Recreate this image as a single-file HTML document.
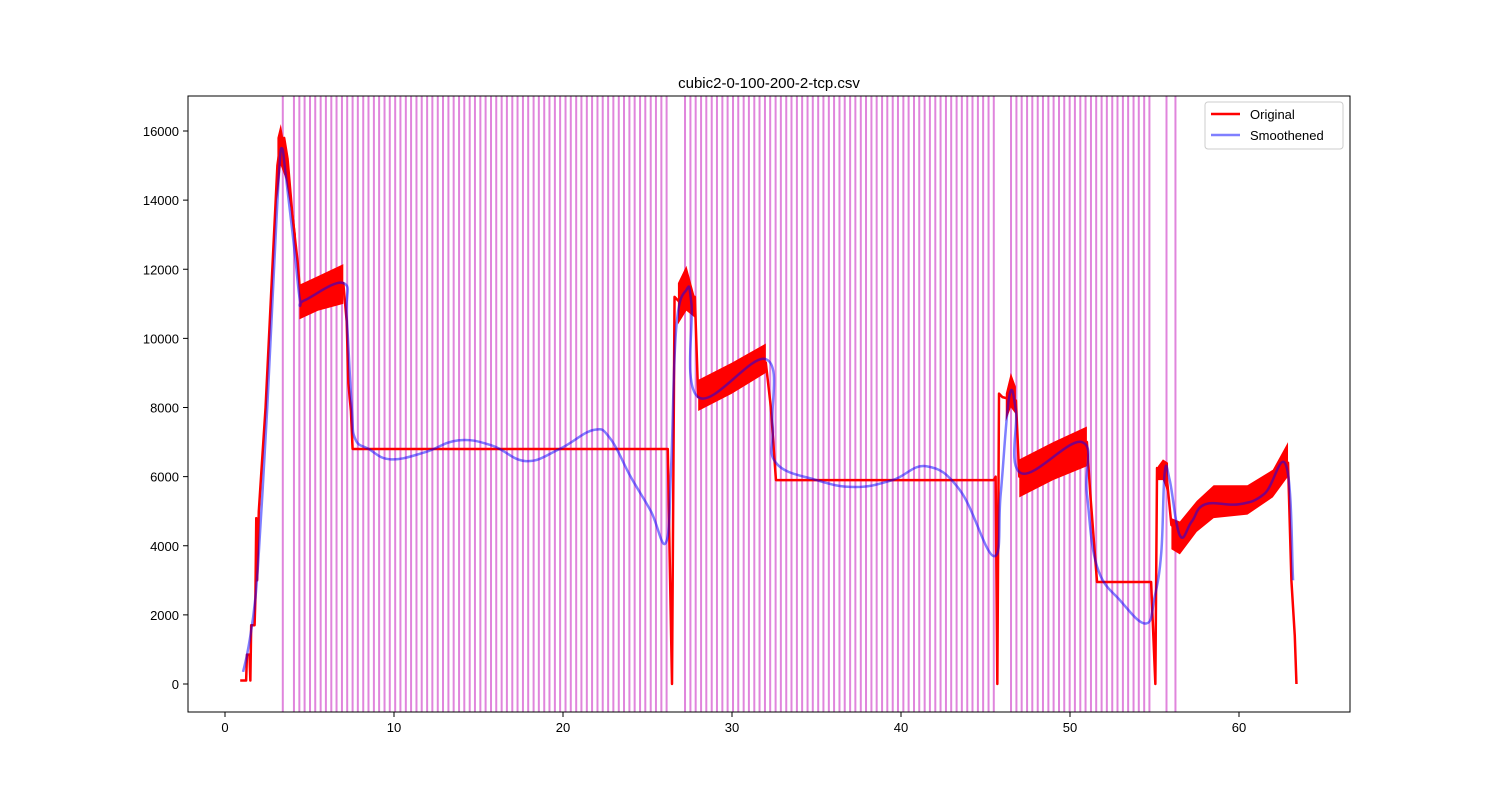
<!DOCTYPE html>
<html><head><meta charset="utf-8"><style>
body{margin:0;background:#fff;}
svg{display:block;font-family:"Liberation Sans","DejaVu Sans",sans-serif;}
</style></head><body>
<svg id="chart" width="1500" height="800">
<rect x="0" y="0" width="1500" height="800" fill="#fff"/>
<text x="769" y="88" text-anchor="middle" font-size="15">cubic2-0-100-200-2-tcp.csv</text>
<g id="plot"></g>
</svg>
<script>
const xTicks=[0,10,20,30,40,50,60];
const yTicks=[0,2000,4000,6000,8000,10000,12000,14000,16000];
const eventTimes=[3.42,
4.08,4.40,4.71,5.03,5.34,5.66,5.97,6.29,6.60,6.92,7.23,7.55,7.86,8.18,8.49,8.81,9.12,9.44,9.75,10.07,10.38,10.70,11.01,11.33,11.64,11.96,12.27,12.59,12.90,13.22,13.53,13.85,14.16,14.48,14.79,15.11,15.42,15.74,16.05,16.37,16.68,17.00,17.31,17.63,17.94,18.26,18.57,18.89,19.20,19.52,19.83,20.15,20.46,20.78,21.09,21.41,21.72,22.04,22.35,22.67,22.98,23.30,23.61,23.93,24.24,24.56,24.87,25.19,25.50,25.82,26.13,
27.22,27.54,27.85,28.17,28.48,28.80,29.11,29.43,29.74,30.06,30.37,30.69,31.00,31.32,31.63,31.95,32.26,32.58,32.89,33.21,33.52,33.84,34.15,34.47,34.78,35.10,35.41,35.73,36.04,36.36,36.67,36.99,37.30,37.62,37.93,38.25,38.56,38.88,39.19,39.51,39.82,40.14,40.45,40.77,41.08,41.40,41.71,42.03,42.34,42.66,42.97,43.29,43.60,43.92,44.23,44.55,44.86,45.18,45.49,
46.51,46.83,47.14,47.46,47.77,48.09,48.40,48.72,49.03,49.35,49.66,49.98,50.29,50.61,50.92,51.24,51.55,51.87,52.18,52.50,52.81,53.13,53.44,53.76,54.07,54.39,54.70,
55.71,56.24];
const origX=[0.9,1.25,1.3,1.45,1.5,1.55,1.75,1.8,1.85,1.9,2.0,2.4,2.8,3.1,3.3,3.5,3.7,4.0,4.3,4.5,7.0,7.2,7.3,7.45,7.55,26.2,26.3,26.45,26.6,27.0,27.8,28.0,32.0,32.3,32.6,45.5,45.6,45.7,45.8,46.0,46.8,47.0,51.0,51.2,51.6,54.6,54.8,55.05,55.15,55.7,56.0,56.5,62.9,63.1,63.3,63.4];
const origY=[100,100,850,850,100,1700,1700,2500,4800,3000,5000,8000,12000,15000,15700,15800,15200,13500,12200,11000,11600,10500,8700,7900,6800,6800,4000,0,11200,11000,11200,8300,9300,8000,5900,5900,6000,0,8400,8300,8200,6000,7000,5500,2950,2950,2950,0,6250,6100,4600,4400,6400,3000,1400,0];
const bands=[
 {x:[3.1,3.3,3.6,3.9,4.2],lo:[14000,15000,14600,13700,12600],hi:[15800,16200,15400,14200,13000]},
 {x:[4.4,5.5,7.0],lo:[10550,10800,11000],hi:[11550,11800,12150]},
 {x:[26.8,27.3,27.8],lo:[10400,10800,10600],hi:[11600,12100,11200]},
 {x:[28.0,30.0,32.0],lo:[7900,8400,9000],hi:[8800,9300,9850]},
 {x:[46.2,46.5,46.8],lo:[7600,8000,7800],hi:[8400,9000,8600]},
 {x:[47.0,49.0,51.0],lo:[5400,5900,6300],hi:[6500,7000,7450]},
 {x:[55.2,55.5,55.8],lo:[5900,5900,5500],hi:[6300,6500,6400]},
 {x:[56.0,56.5,57.5,58.5,60.5,62.0,62.9],lo:[3900,3750,4400,4800,4900,5400,6000],hi:[4800,4700,5300,5750,5750,6200,7000]}
];
const smoothX=[1.07,1.4,1.8,2.1,2.5,2.9,3.2,3.37,3.6,4.1,4.44,4.7,7.0,7.2,7.5,7.7,8.5,9.8,11.8,13.8,15.8,17.8,19.8,21.8,22.8,24.0,25.2,26.1,26.4,26.7,27.3,27.6,28.0,32.0,32.4,32.6,35,37.3,39.5,41.5,43.5,45.5,45.9,46.4,46.8,47.1,50.7,51.0,51.6,53.0,54.5,55.0,55.4,55.6,55.9,56.5,57.2,58.0,60.0,61.5,62.8,63.2];
const smoothY=[350,1100,2500,4600,8000,12000,14800,15500,14700,12600,11100,11100,11600,10600,8000,7100,6800,6500,6700,7050,6900,6450,6800,7350,7100,6000,5000,4100,6300,10300,11400,11000,8300,9400,7500,6400,5900,5700,5900,6300,5600,3700,5500,8300,7900,6100,7000,5500,3400,2400,1750,2500,3800,6100,5900,4300,4700,5200,5200,5500,6300,3000];

const L=188,R=1350,T=96,B=712;
const sx=v=>225+(v-0)*16.9;
const sy=v=>684-v*(553/16000);
const NS="http://www.w3.org/2000/svg";
const g=document.getElementById('plot');
function mk(tag,attrs,parent){const e=document.createElementNS(NS,tag);for(const k in attrs)e.setAttribute(k,attrs[k]);(parent||g).appendChild(e);return e;}
function smoothPath(xs,ys){
  const P=xs.map((x,i)=>[sx(x),sy(ys[i])]);
  let d='M'+P[0][0]+','+P[0][1];
  for(let i=0;i<P.length-1;i++){
    const p0=P[i-1]||P[i],p1=P[i],p2=P[i+1],p3=P[i+2]||P[i+1];
    const t=0.2;
    const c1=[p1[0]+(p2[0]-p0[0])*t,p1[1]+(p2[1]-p0[1])*t];
    const c2=[p2[0]-(p3[0]-p1[0])*t,p2[1]-(p3[1]-p1[1])*t];
    d+=` C${c1[0]},${c1[1]} ${c2[0]},${c2[1]} ${p2[0]},${p2[1]}`;
  }
  return d;
}

const ev=mk('g',{});


eventTimes.forEach(t=>{
  const l=mk('line',{x1:sx(t),x2:sx(t),y1:T,y2:B,stroke:'#da70d6','stroke-opacity':0.85,'stroke-width':2},ev);
  
  
});
bands.forEach(b=>{
  let pts=b.x.map((x,i)=>sx(x)+','+sy(b.hi[i]));
  pts=pts.concat(b.x.map((x,i)=>sx(x)+','+sy(b.lo[i])).reverse());
  const p=mk('polygon',{points:pts.join(' '),fill:'#ff0000'});
  
  
});
const o=mk('polyline',{points:origX.map((x,i)=>sx(x)+','+sy(origY[i])).join(' '),fill:'none',stroke:'#ff0000','stroke-width':2.5,'stroke-linejoin':'round'});


const s=mk('path',{d:smoothPath(smoothX,smoothY),fill:'none',stroke:'#0000ff','stroke-opacity':0.5,'stroke-width':2.5,'stroke-linejoin':'round'});



const fr=mk('rect',{x:L,y:T,width:R-L,height:B-T,fill:'none',stroke:'#000','stroke-width':1});


xTicks.forEach(v=>{
  const x=sx(v);
  mk('line',{x1:x,x2:x,y1:B,y2:B+5,stroke:'#000'});
  const t=mk('text',{x:x,y:B+20,'text-anchor':'middle','font-size':13});
  t.textContent=v;
  
  
});
yTicks.forEach(v=>{
  const y=sy(v);
  mk('line',{x1:L-5,x2:L,y1:y,y2:y,stroke:'#000'});
  const t=mk('text',{x:L-9,y:y+5,'text-anchor':'end','font-size':13});
  t.textContent=v;
  
  
});
const lg=mk('g',{});


mk('rect',{x:1205,y:102,width:138,height:47,rx:3,fill:'#fff','fill-opacity':0.8,stroke:'#ccc'},lg);
mk('line',{x1:1211,x2:1240,y1:114,y2:114,stroke:'#ff0000','stroke-width':2.5},lg);
mk('line',{x1:1211,x2:1240,y1:135,y2:135,stroke:'#0000ff','stroke-opacity':0.5,'stroke-width':2.5},lg);
const t1=mk('text',{x:1250,y:119,'font-size':13},lg);t1.textContent='Original';


const t2=mk('text',{x:1250,y:140,'font-size':13},lg);t2.textContent='Smoothened';


</script>
</body></html>
